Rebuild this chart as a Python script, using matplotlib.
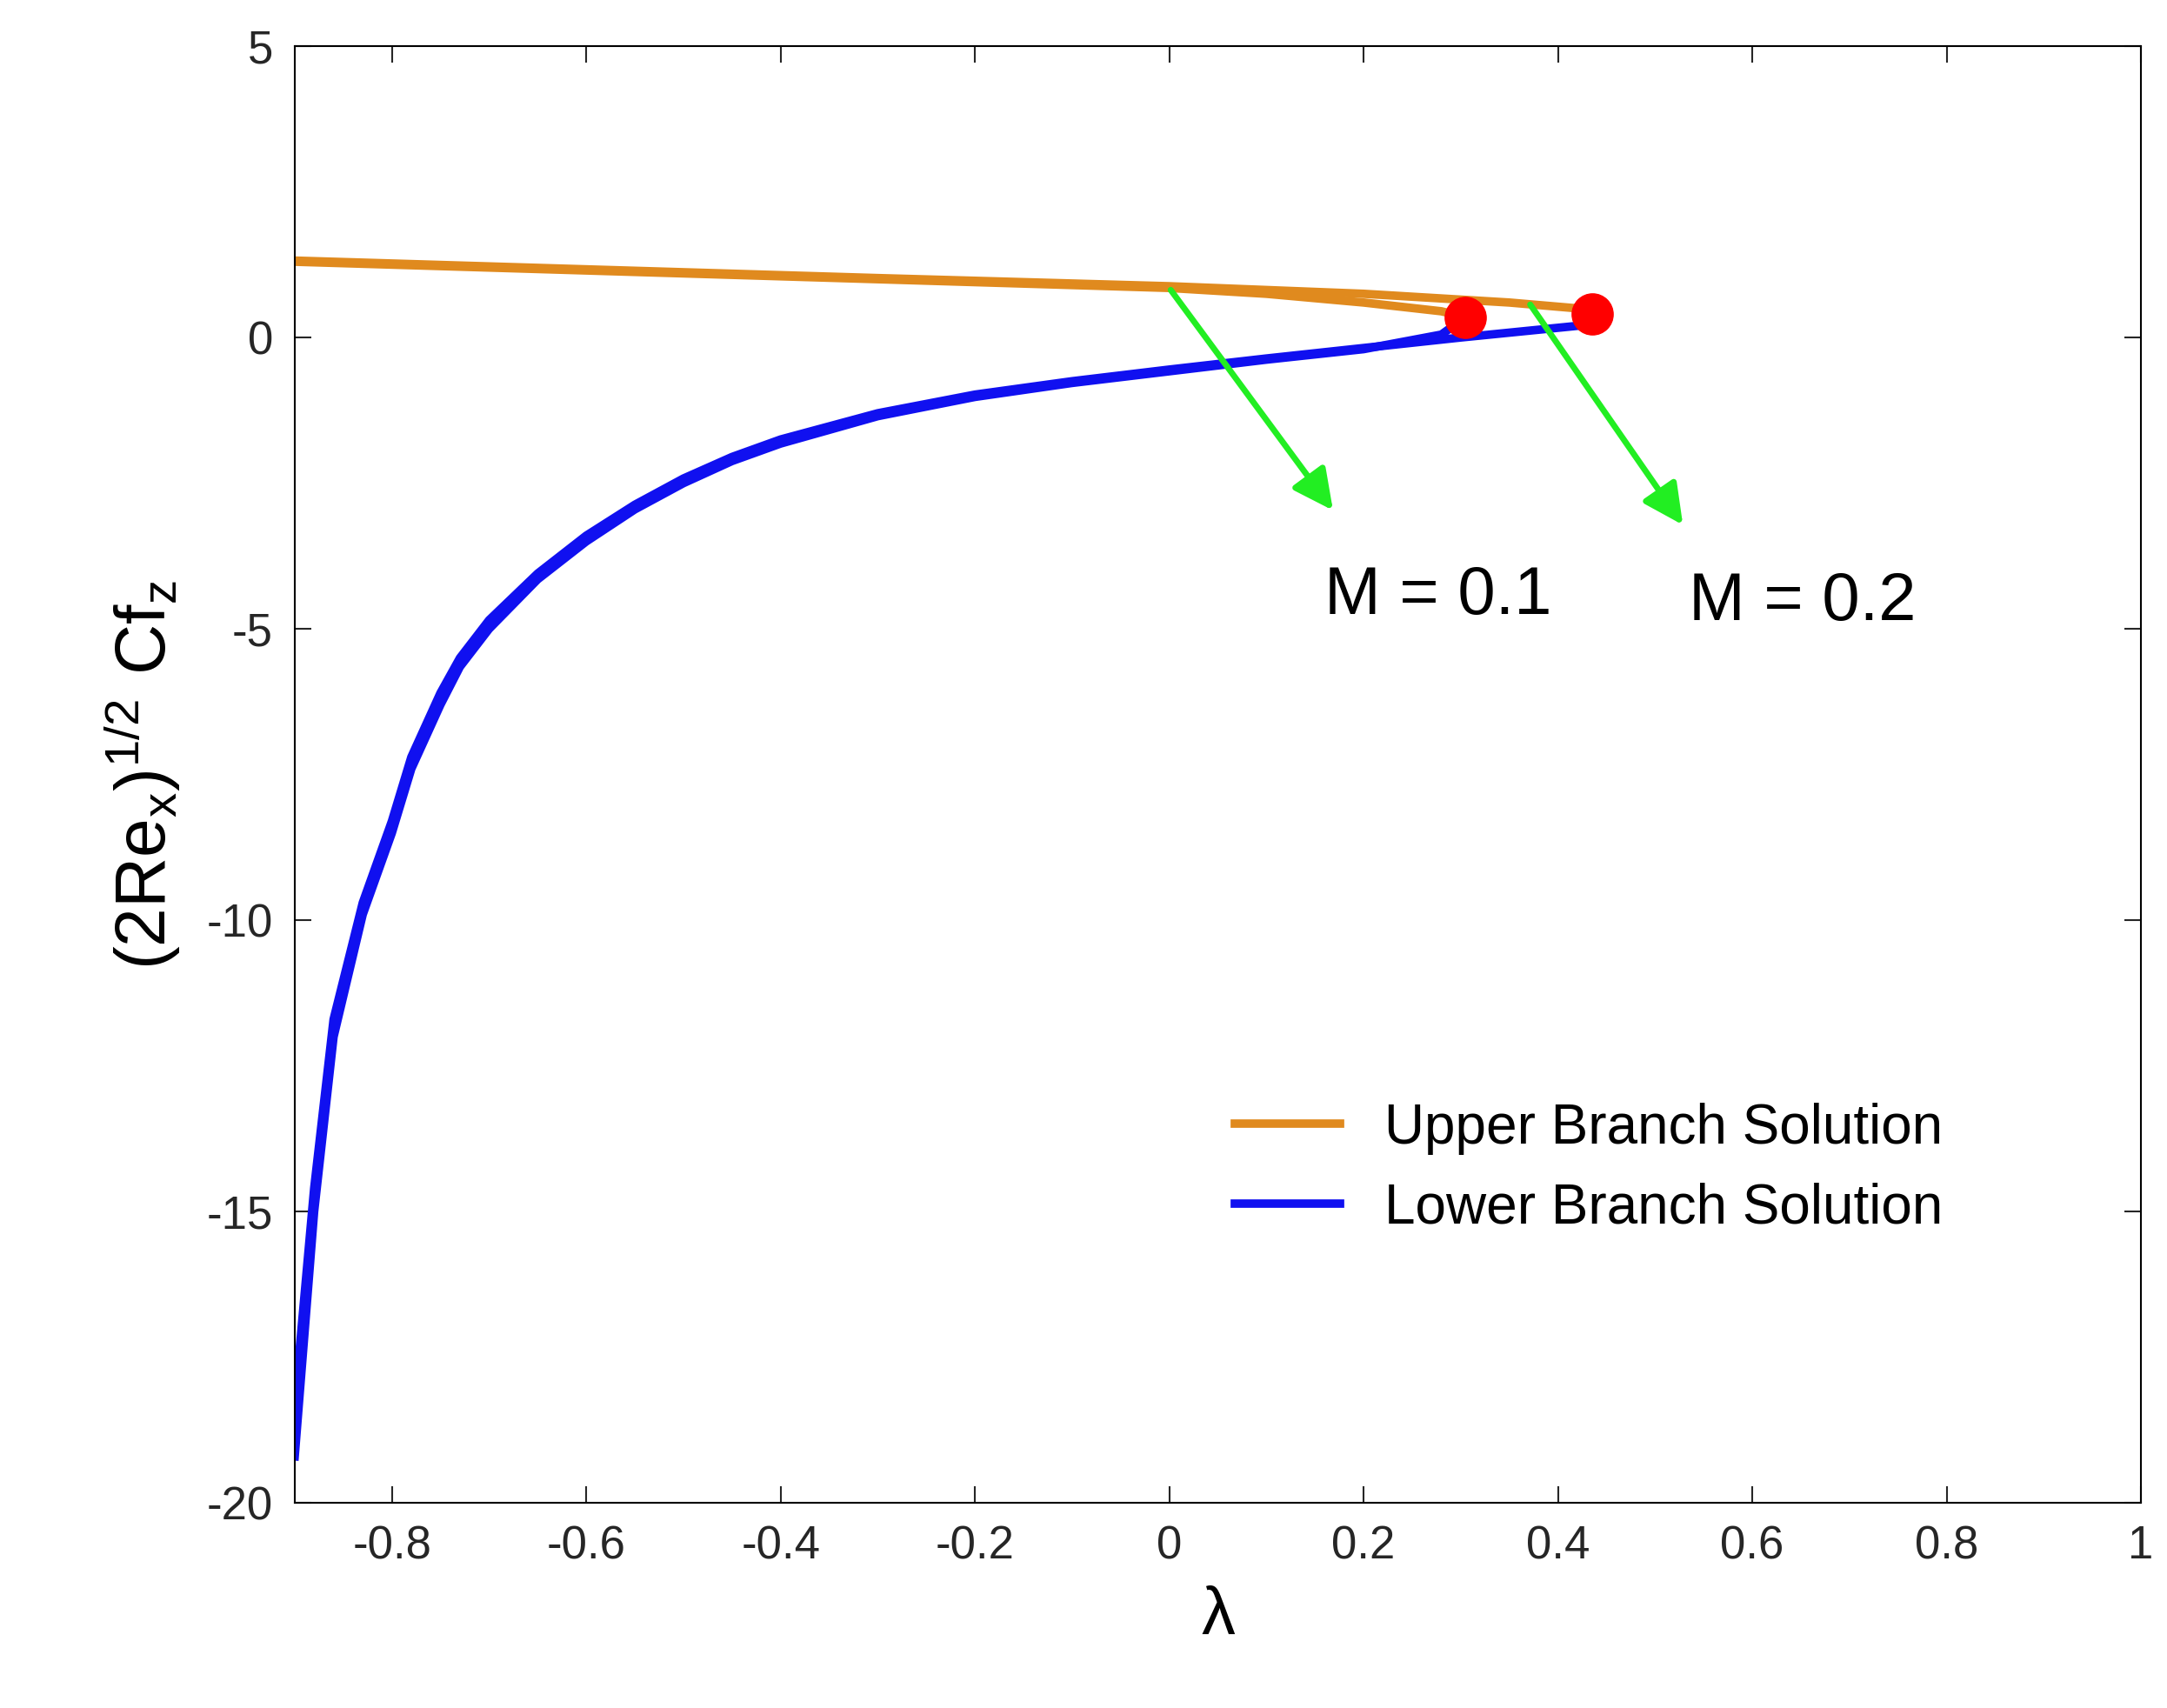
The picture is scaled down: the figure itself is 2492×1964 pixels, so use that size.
import matplotlib
matplotlib.use("Agg")
import matplotlib.pyplot as plt

plt.rcParams['font.family'] = ['Liberation Sans', 'DejaVu Sans']
plt.rcParams['axes.unicode_minus'] = False

lam_up1 = [-0.9, -0.6, -0.3, 0.0, 0.1, 0.2, 0.28, 0.305]
cf_up1 = [1.30, 1.15, 1.0, 0.85, 0.75, 0.6, 0.45, 0.35]
lam_lo1 = [0.305, 0.28, 0.2, 0.1, 0.0, -0.1, -0.2, -0.3, -0.4, -0.45, -0.5, -0.55, -0.6, -0.65, -0.7, -0.73, -0.75, -0.78, -0.8, -0.83, -0.86, -0.88, -0.9]
cf_lo1 = [0.35, 0.05, -0.2, -0.38, -0.58, -0.78, -1.02, -1.35, -1.82, -2.12, -2.5, -2.95, -3.5, -4.15, -5.0, -5.65, -6.3, -7.4, -8.5, -9.9, -12.0, -15.0, -19.2]

lam_up2 = [-0.9, -0.6, -0.3, 0.0, 0.2, 0.35, 0.42, 0.435]
cf_up2 = [1.32, 1.17, 1.02, 0.88, 0.75, 0.6, 0.5, 0.4]
lam_lo2 = [0.435, 0.42, 0.3, 0.2, 0.1, 0.0, -0.1, -0.2, -0.3, -0.4, -0.45, -0.5, -0.55, -0.6, -0.65, -0.7, -0.73, -0.75, -0.78, -0.8, -0.83, -0.86, -0.88, -0.9]
cf_lo2 = [0.4, 0.2, 0.0, -0.18, -0.36, -0.55, -0.75, -0.98, -1.3, -1.75, -2.05, -2.42, -2.87, -3.4, -4.05, -4.85, -5.5, -6.1, -7.2, -8.3, -9.7, -11.7, -14.6, -18.3]

crit_lam = [0.305, 0.435]
crit_cf = [0.35, 0.4]

fig = plt.figure(figsize=(24.92, 19.64), dpi=100)
ax = fig.add_axes([0.136, 0.12, 0.852, 0.853])

orange = '#E08A1E'
blue = '#1010F0'
ax.plot(lam_up1, cf_up1, color=orange, lw=7, label='Upper Branch Solution')
ax.plot(lam_lo1, cf_lo1, color=blue, lw=7, label='Lower Branch Solution')
ax.plot(lam_up2, cf_up2, color=orange, lw=7)
ax.plot(lam_lo2, cf_lo2, color=blue, lw=7)
ax.plot(crit_lam, crit_cf, 'o', color='red', ms=34, zorder=5)

ax.annotate('', xy=(0.17, -3.0), xytext=(0.0, 0.85),
            arrowprops=dict(arrowstyle='-|>', color='#22EE22', lw=5, mutation_scale=70))
ax.annotate('', xy=(0.53, -3.25), xytext=(0.37, 0.6),
            arrowprops=dict(arrowstyle='-|>', color='#22EE22', lw=5, mutation_scale=70))
ax.text(0.16, -4.75, 'M = 0.1', fontsize=56)
ax.text(0.535, -4.85, 'M = 0.2', fontsize=56)

ax.set_xlim(-0.9, 1)
ax.set_ylim(-20, 5)
ax.set_xticks([-0.8, -0.6, -0.4, -0.2, 0, 0.2, 0.4, 0.6, 0.8, 1])
ax.set_xticklabels(['-0.8', '-0.6', '-0.4', '-0.2', '0', '0.2', '0.4', '0.6', '0.8', '1'])
ax.set_yticks([-20, -15, -10, -5, 0, 5])
ax.tick_params(direction='in', top=True, right=True, length=14, width=1.5, labelsize=38, pad=18, colors='#262626')
for s in ax.spines.values():
    s.set_linewidth(1.5)
ax.set_xlabel('λ', fontsize=56, labelpad=14)
ax.set_ylabel(r'$\mathregular{(2Re_x)^{1/2}\ Cf_z}$', fontsize=58, labelpad=20)
ax.legend(loc='lower right', bbox_to_anchor=(0.92, 0.15), frameon=False, fontsize=46, handlelength=1.9)

fig.savefig('out.png', dpi=100, facecolor='white')
